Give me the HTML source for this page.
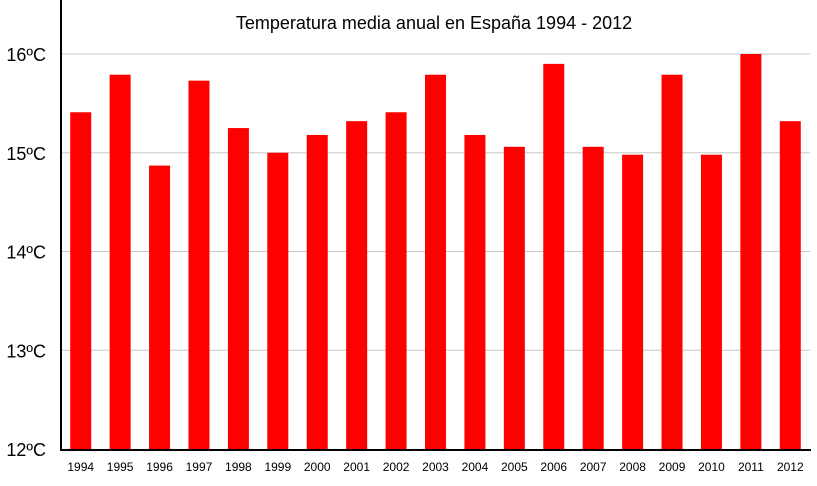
<!DOCTYPE html>
<html><head><meta charset="utf-8"><style>
body{margin:0;background:#fff;}
svg{display:block;font-family:"Liberation Sans",Arial,sans-serif;}
</style></head><body>
<svg id="chart" width="817" height="486">
<text x="434" y="29" font-size="18" text-anchor="middle">Temperatura media anual en España 1994 - 2012</text>
<g id="grid"></g><g id="bars"></g><g id="xlabels"></g><g id="ylabels"></g>
<line x1="61" y1="0" x2="61" y2="450" stroke="#000" stroke-width="2"/>
<line x1="60" y1="450" x2="811" y2="450" stroke="#000" stroke-width="2"/>
</svg>
<script>
const years=["1994","1995","1996","1997","1998","1999","2000","2001","2002","2003","2004","2005","2006","2007","2008","2009","2010","2011","2012"];
const temps=[15.41,15.79,14.87,15.73,15.25,15.0,15.18,15.32,15.41,15.79,15.18,15.06,15.9,15.06,14.98,15.79,14.98,16.0,15.32];
const yTicks=[12,13,14,15,16];
const yTickLabels=["12ºC","13ºC","14ºC","15ºC","16ºC"];
const NS="http://www.w3.org/2000/svg";
const x0=61,x1=810,yMin=12,yMax=16,py0=449,py1=54;
const band=(x1-x0)/years.length;
const xs=i=>x0+band*(i+0.5);
const ys=v=>py0-(v-yMin)/(yMax-yMin)*(py0-py1);
function mk(t,a,p){const e=document.createElementNS(NS,t);for(const k in a)e.setAttribute(k,a[k]);p.appendChild(e);return e;}
const g=document.getElementById('grid'),b=document.getElementById('bars'),xl=document.getElementById('xlabels'),yl=document.getElementById('ylabels');
yTicks.forEach((v,i)=>{
 if(v>yMin){const l=mk('line',{x1:x0,x2:x1,y1:ys(v),y2:ys(v),stroke:'#c8c8c8','stroke-width':1},g);
 
 }
 const t=mk('text',{x:46,y:ys(v)+7,'font-size':18,'text-anchor':'end'},yl);t.textContent=yTickLabels[i];
 
 
});
years.forEach((y,i)=>{
 const r=mk('rect',{x:xs(i)-10.5,y:ys(temps[i]),width:21,height:ys(yMin)-ys(temps[i]),fill:'#ff0000'},b);
 
 
 const t=mk('text',{x:xs(i),y:471,'font-size':12,'text-anchor':'middle'},xl);t.textContent=y;
 
 
});
</script>
</body></html>
